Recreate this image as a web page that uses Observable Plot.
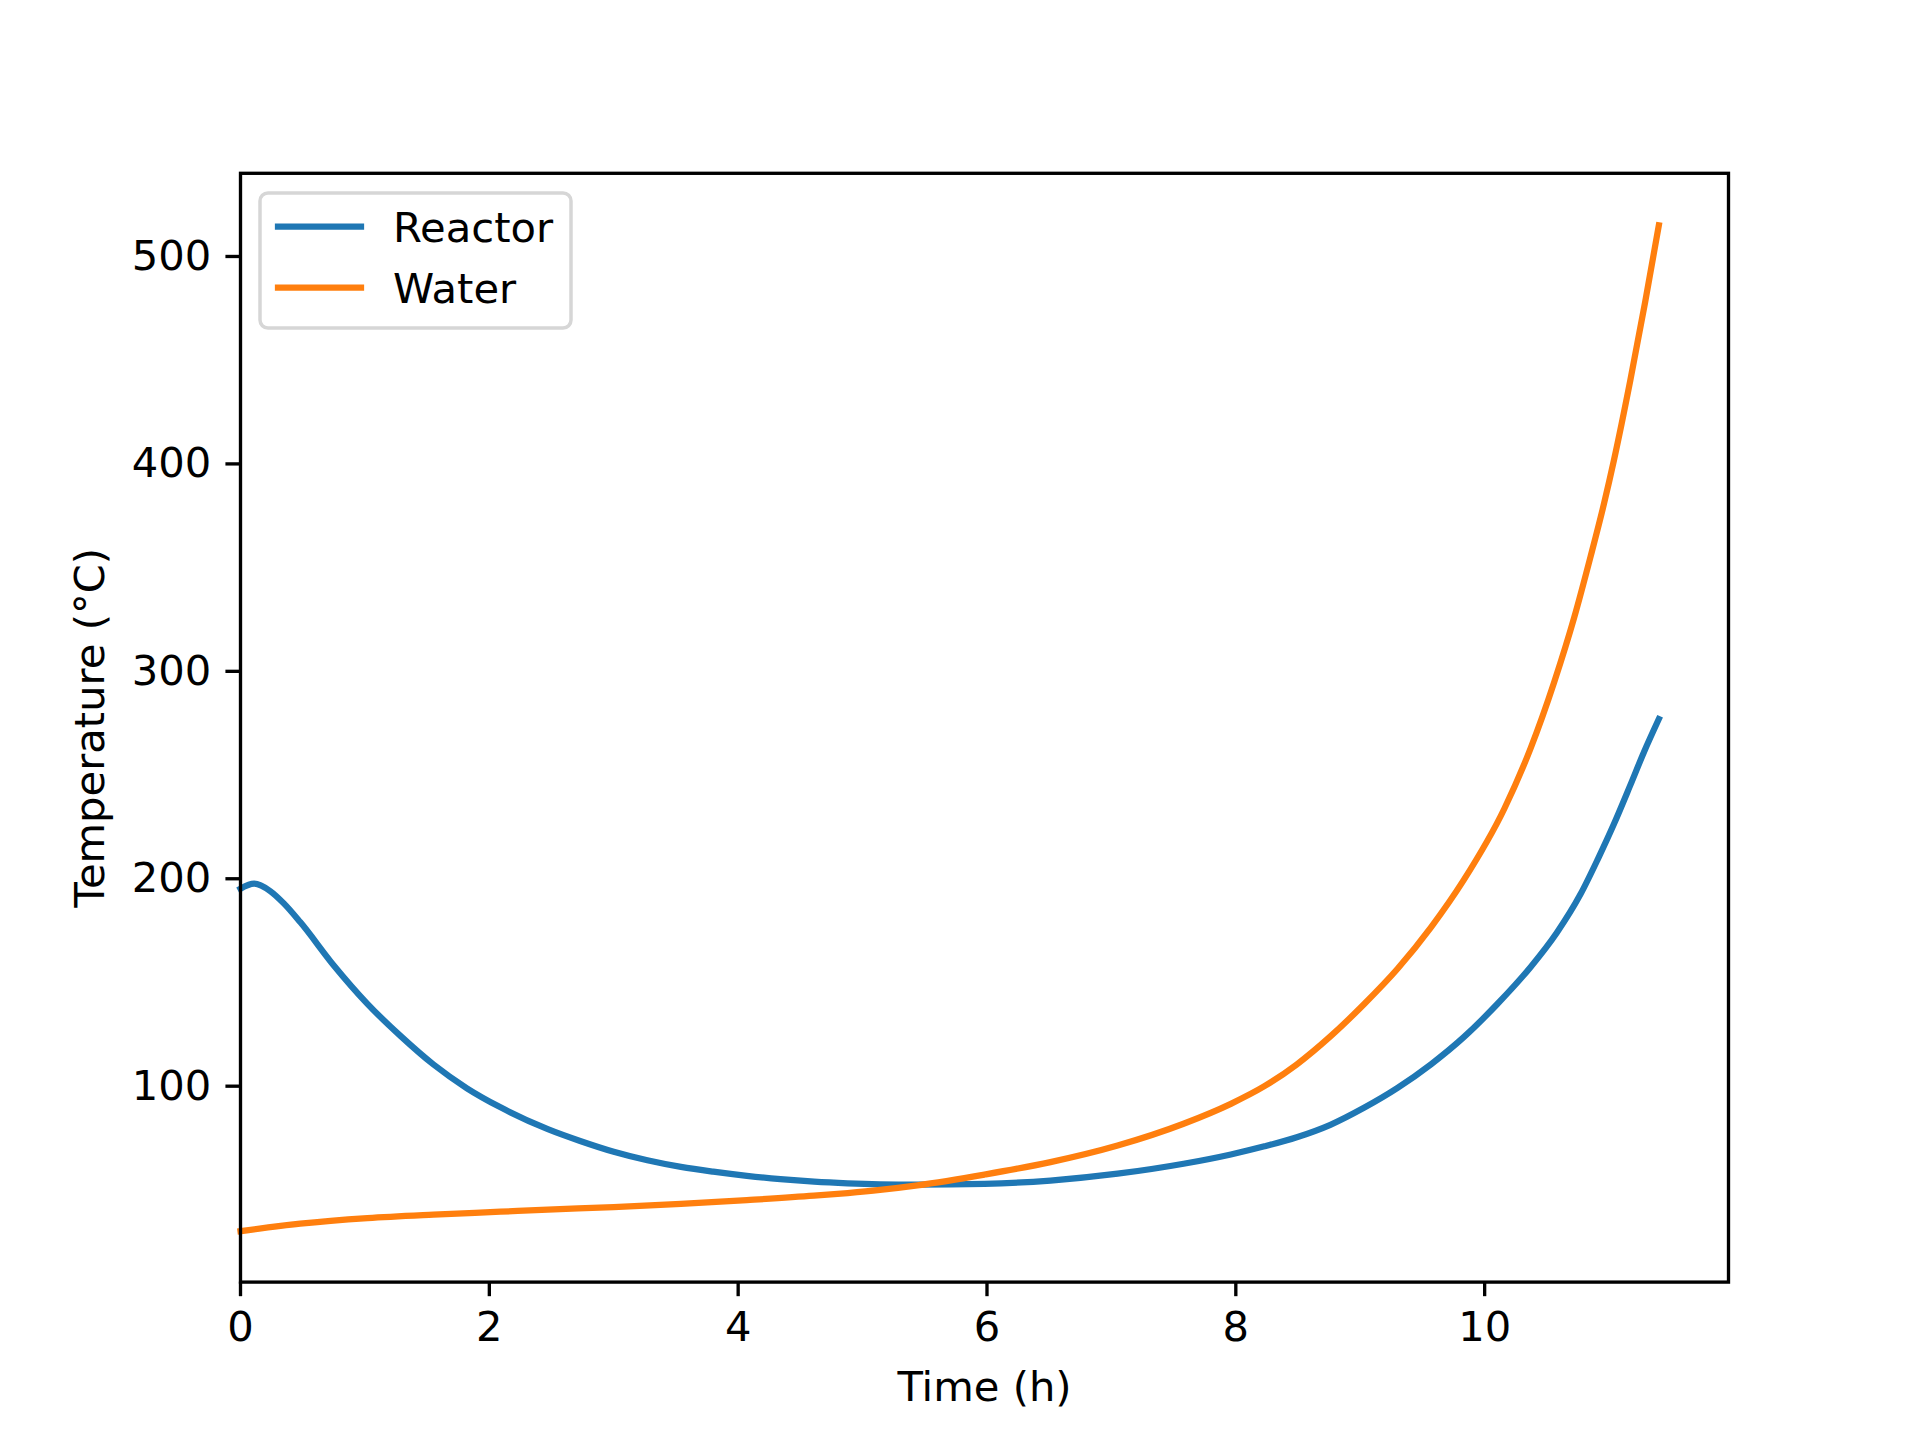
<!DOCTYPE html>
<html>
<head>
<meta charset="utf-8">
<script src="https://cdn.jsdelivr.net/npm/d3@7"></script>
<script src="https://cdn.jsdelivr.net/npm/@observablehq/plot@0.6"></script>
<style>
  html, body { margin: 0; padding: 0; background: #ffffff; }
  #wrap { position: relative; width: 1920px; height: 1440px; background: #ffffff; }
  #legend { position: absolute; left: 0; top: 0; pointer-events: none; }
</style>
</head>
<body>
<div id="wrap"></div>
<script>
// ---- data ----
const seriesNames = ["Reactor", "Water"];
const seriesColors = ["#1f77b4", "#ff7f0e"];

const reactorTime = [0, 0.11, 0.24, 0.35, 0.48, 0.75, 1.02, 1.29, 1.55, 1.82, 2.09, 2.47, 2.73, 3.00, 3.27, 3.54, 3.80, 4.07, 4.34, 4.61, 4.88, 5.14, 5.44, 5.98, 6.51, 7.05, 7.58, 7.96, 8.23, 8.49, 8.76, 9.03, 9.30, 9.57, 9.83, 10.10, 10.37, 10.58, 10.77, 10.91, 11.04, 11.17, 11.28, 11.40];
const reactorTemp = [195.2, 197.6, 194.0, 188.0, 179.1, 158.2, 139.7, 124.0, 110.5, 99.0, 89.8, 79.3, 73.6, 68.4, 64.3, 61.1, 58.8, 56.8, 55.2, 54.0, 53.2, 52.7, 52.5, 52.9, 54.5, 57.8, 62.6, 67.1, 71.0, 75.4, 81.4, 89.6, 99.2, 110.6, 123.5, 139.5, 157.5, 174.0, 192.5, 209.5, 226.5, 245.0, 261.0, 277.0];

const waterTime = [0, 0.48, 1.02, 1.55, 2.09, 2.47, 3.00, 3.54, 4.07, 4.61, 4.88, 5.14, 5.44, 5.98, 6.51, 7.05, 7.58, 7.96, 8.23, 8.49, 8.76, 9.03, 9.30, 9.57, 9.83, 10.16, 10.37, 10.56, 10.72, 10.85, 10.96, 11.04, 11.17, 11.29, 11.40];
const waterTemp = [30.1, 33.7, 36.4, 38.1, 39.5, 40.5, 41.7, 43.3, 45.1, 47.2, 48.5, 50.0, 52.2, 57.4, 63.4, 71.4, 81.9, 91.5, 100.0, 110.5, 124.0, 139.5, 156.6, 176.7, 199.2, 234.0, 263.0, 295.0, 326.0, 355.0, 381.0, 402.0, 440.0, 478.0, 515.0];

const xTicks = [0, 2, 4, 6, 8, 10];
const yTicks = [100, 200, 300, 400, 500];
const xLabel = "Time (h)";
const yLabel = "Temperature (°C)";
const xDomain = [0, 11.96];
const yDomain = [5.55, 540.1];

// ---- build ----
const pt = 300 / 72;
const W = 1920, H = 1440;
const mL = 240, mR = 192, mT = 172.8, mB = 158.4;

const reactor = reactorTime.map((t, i) => ({t, v: reactorTemp[i]}));
const water = waterTime.map((t, i) => ({t, v: waterTemp[i]}));

const chart = Plot.plot({
  width: W,
  height: H,
  marginLeft: mL,
  marginRight: mR,
  marginTop: mT,
  marginBottom: mB,
  style: {fontFamily: "DejaVu Sans", fontSize: (10 * pt) + "px", color: "#000000", background: "#ffffff"},
  x: {domain: xDomain, ticks: xTicks},
  y: {domain: yDomain, ticks: yTicks},
  marks: [
    Plot.line(reactor, {x: "t", y: "v", stroke: seriesColors[0], strokeWidth: 1.5 * pt, curve: "monotone-x", strokeLinecap: "square", strokeLinejoin: "round"}),
    Plot.line(water, {x: "t", y: "v", stroke: seriesColors[1], strokeWidth: 1.5 * pt, curve: "monotone-x", strokeLinecap: "square", strokeLinejoin: "round"}),
    Plot.frame({stroke: "#000000", strokeWidth: 0.8 * pt}),
    Plot.axisX({
      ticks: xTicks, tickSize: 3.5 * pt, tickPadding: 3.5 * pt, strokeWidth: 0.8 * pt,
      fontSize: 10 * pt, fill: "#000000",
      label: xLabel, labelAnchor: "center", labelArrow: "none", labelOffset: 119
    }),
    Plot.axisY({
      ticks: yTicks, tickSize: 3.5 * pt, tickPadding: 3.5 * pt, strokeWidth: 0.8 * pt,
      fontSize: 10 * pt, fill: "#000000",
      label: yLabel, labelAnchor: "center", labelArrow: "none", labelOffset: 166
    })
  ]
});

const wrap = document.getElementById("wrap");
wrap.appendChild(chart);

// ---- legend (matplotlib style, upper left) ----
const fs = 10 * pt;
const legend = d3.select(wrap).append("svg")
  .attr("id", "legend")
  .attr("width", W).attr("height", H);
const box = {x: 260, y: 193, w: 311, h: 135};
legend.append("rect")
  .attr("x", box.x).attr("y", box.y).attr("width", box.w).attr("height", box.h)
  .attr("rx", 8).attr("ry", 8)
  .attr("fill", "#ffffff").attr("fill-opacity", 0.8)
  .attr("stroke", "#d6d6d6").attr("stroke-width", 3.5);
seriesNames.forEach((name, i) => {
  const cy = 226.7 + i * 61;
  legend.append("line")
    .attr("x1", 278).attr("x2", 361).attr("y1", cy).attr("y2", cy)
    .attr("stroke", seriesColors[i]).attr("stroke-width", 1.5 * pt)
    .attr("stroke-linecap", "square");
  legend.append("text")
    .attr("x", 393).attr("y", cy + 15)
    .attr("font-family", "DejaVu Sans").attr("font-size", fs)
    .attr("fill", "#000000")
    .text(name);
});
</script>
</body>
</html>
